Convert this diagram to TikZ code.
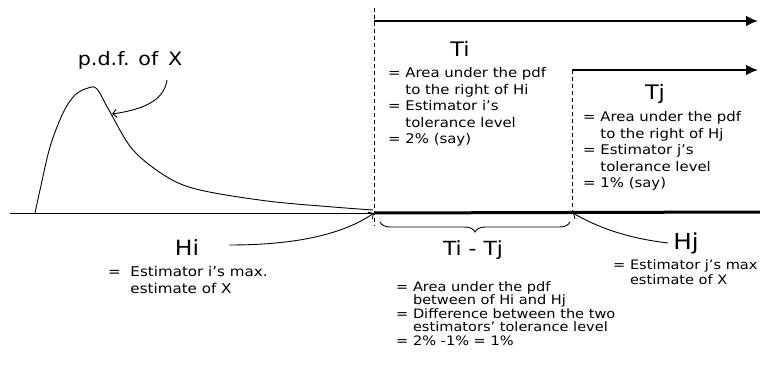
\documentclass[tikz,border=0pt]{standalone}
\usepackage{fontspec}
\setmainfont{DejaVu Sans}[FakeStretch=1.12]
\usetikzlibrary{arrows.meta,positioning,decorations.pathreplacing}

\begin{document}
\begin{tikzpicture}[x=1pt,y=-1pt,
  lbl/.style={inner sep=0, font=\fontsize{20}{22}\selectfont},
  hlbl/.style={inner sep=0, font=\fontsize{22}{24}\selectfont},
  note/.style={inner sep=0, anchor=north west, align=left, font=\fontsize{13.3}{16.5}\selectfont},
  tightnote/.style={note, font=\fontsize{13}{13.4}\selectfont},
  tail/.style={line width=2.5pt, -{Latex[length=12pt,width=11pt]}},
  guide/.style={line width=0.9pt, dash pattern=on 4pt off 3pt},
  callout/.style={line width=0.9pt, -{Straight Barb[length=4pt,width=8pt]}}
]
\useasboundingbox (0,0) rectangle (760,369);

% axis and density
\coordinate (axisL) at (10,213);
\coordinate (hifoot) at (374,213);
\coordinate (hjfoot) at (573,213);
\coordinate (axisR) at (760,212);
\draw[line width=0.9pt] (axisL) -- (hifoot);
\draw[line width=3pt] (hifoot) -- (axisR);
\draw[line width=0.9pt] plot[smooth, tension=0.55] coordinates {
  (35,213) (40,190) (50,147) (63,113) (75,95) (88,88) (97,89)
  (110,112) (133,150) (167,177) (200,190) (267,201) (333,207) (373,210)};

% thresholds
\coordinate (hitop) at (374,8);
\coordinate (hibot) at (374,226);
\coordinate (hjtop) at (572,70);
\coordinate (hjbot) at (572,217);
\draw[guide] (hitop) -- (hibot);
\draw[guide] (hjtop) -- (hjbot);
\draw[tail] (374,21) -- (758,21);
\draw[tail] (hjtop) -- (758,70);

% labels
\node[lbl, font=\fontsize{18.5}{20}\selectfont] (pdflabel) at (130,60) {p.d.f. of\, X};
\node[lbl] (tilabel) at (460,49) {Ti};
\node[lbl] (tjlabel) at (655,94) {Tj};
\node[hlbl, font=\fontsize{21}{23}\selectfont] (hilabel) at (187,248) {Hi};
\node[hlbl] (hjlabel) at (686,243) {Hj};
\node[lbl, font=\fontsize{19.5}{21}\selectfont] (difflabel) at (473,250) {Ti - Tj};

\node[note] (tinote) at (388,67.5) {= Area under the pdf\\
  \phantom{= }to the right of Hi\\
  = Estimator i’s\\
  \phantom{= }tolerance level\\
  = 2\% (say)};
\node[note] (tjnote) at (583,111.5) {= Area under the pdf\\
  \phantom{= }to the right of Hj\\
  = Estimator j’s\\
  \phantom{= }tolerance level\\
  = 1\% (say)};
\node[note, font=\fontsize{13.5}{16.5}\selectfont] (hinote) at (108,266.5) {=\ \ Estimator i’s max.\\
  \phantom{=\ \ }estimate of X};
\node[note, font=\fontsize{13}{15}\selectfont] (hjnote) at (613,259) {= Estimator j’s max\\
  \phantom{= }estimate of X};
\node[tightnote] (diffnote) at (396,281.5) {= Area under the pdf\\
  \phantom{= }between of Hi and Hj\\
  = Difference between the two\\
  \phantom{= }estimators’ tolerance level\\
  = 2\% -1\% = 1\%};

% callouts
\coordinate (pdfstart) at (167,80);
\coordinate (pdfpoint) at (112,114);
\draw[callout] (pdfstart) .. controls (164,102) and (140,110) .. (pdfpoint);
\draw[callout] ([xshift=30pt,yshift=3pt]hilabel.east) .. controls (300,245) and (345,233) .. (hifoot);
\draw[callout] ([xshift=-5pt]hjlabel.west) .. controls (625,238) and (595,226) .. (hjfoot);
\draw[line width=0.9pt, decorate, decoration={brace, mirror, amplitude=10pt}]
  (380,222) -- (570,222);
\end{tikzpicture}
\end{document}
